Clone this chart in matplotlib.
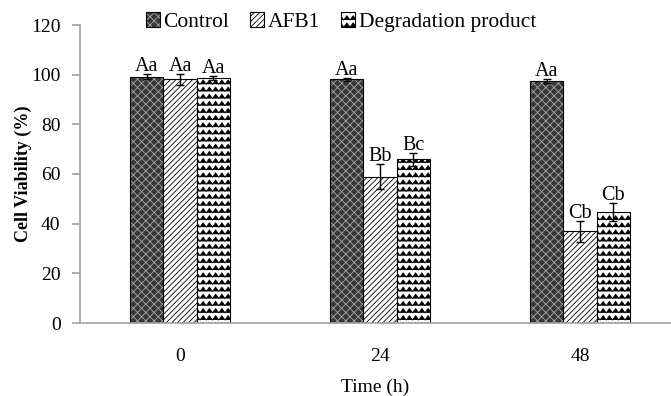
import numpy as np
import matplotlib
matplotlib.use("Agg")
import matplotlib.pyplot as plt
import matplotlib.hatch as mhatch
from matplotlib.path import Path

# data
times = ["0", "24", "48"]
series = ["Control", "AFB1", "Degradation product"]
control = [99.2, 98.1, 97.6]
afb1 = [98.1, 58.9, 37.0]
degradation = [98.8, 65.9, 44.7]
control_err = [1.0, 0.6, 0.8]
afb1_err = [2.3, 5.0, 4.2]
degradation_err = [0.8, 2.7, 3.7]
control_lab = ["Aa", "Aa", "Aa"]
afb1_lab = ["Aa", "Bb", "Cb"]
degradation_lab = ["Aa", "Bc", "Cb"]


class ZigZagHatch(mhatch.HatchPatternBase):
    # wavy lines, used in place of the '|' hatch
    def __init__(self, hatch, density):
        n = hatch.count("|")
        self.num_lines = int(n * density * 1.2)
        self.num_teeth = int(n * density * 1.35)
        self.num_vertices = self.num_lines * (2 * self.num_teeth + 1)

    def set_vertices_and_codes(self, vertices, codes):
        if self.num_lines == 0:
            return
        ys = (np.arange(self.num_lines) + 0.5) / self.num_lines
        xs = np.linspace(0, 1, 2 * self.num_teeth + 1)
        amp = 0.3 / self.num_lines
        offs = np.where(np.arange(len(xs)) % 2 == 0, -amp, amp)
        k = len(xs)
        for i, y in enumerate(ys):
            vertices[i * k:(i + 1) * k, 0] = xs
            vertices[i * k:(i + 1) * k, 1] = y + offs
            codes[i * k] = Path.MOVETO
            codes[i * k + 1:(i + 1) * k] = Path.LINETO


mhatch._hatch_types = [ZigZagHatch if t is mhatch.VerticalHatch else t
                       for t in mhatch._hatch_types]

plt.rcParams["font.family"] = ["Liberation Serif", "DejaVu Serif"]
plt.rcParams["hatch.linewidth"] = 0.6

fig = plt.figure(figsize=(6.71, 3.96), dpi=100)
ax = fig.add_axes([80 / 671, 1 - 323 / 396, 591 / 671, 298 / 396])

x = np.arange(len(times))
w = 1 / 6
styles = [
    ("#383838", "#a8a8a8", "xxxx"),
    ("white", "black", "//////"),
    ("white", "black", "||"),
]
values = [control, afb1, degradation]
errors = [control_err, afb1_err, degradation_err]
letters = [control_lab, afb1_lab, degradation_lab]

handles = []
for i, (vals, errs, labs, (face, hcol, hatch)) in enumerate(zip(values, errors, letters, styles)):
    pos = x + (i - 1) * w
    hb = ax.bar(pos, vals, w, color=face, edgecolor=hcol, hatch=hatch, linewidth=0)
    eb = ax.bar(pos, vals, w, fill=False, edgecolor="black", linewidth=0.8)
    handles.append((hb, eb))
    ax.errorbar(pos, vals, yerr=errs, fmt="none", ecolor="black",
                elinewidth=1, capsize=3, capthick=1)
    for p, v, e, t in zip(pos, vals, errs, labs):
        ax.text(p, v + e + 1.2, t, ha="center", va="baseline", fontsize=14.5)

ax.set_xlim(-0.5, -0.5 + 591 / 200)
ax.set_ylim(0, 120)
ax.set_yticks(range(0, 121, 20))
ax.set_xticks(x)
ax.set_xticklabels(times)

for s in ["top", "right"]:
    ax.spines[s].set_visible(False)
for s in ["left", "bottom"]:
    ax.spines[s].set_color("#a0a0a0")
    ax.spines[s].set_linewidth(1.2)

ax.tick_params(axis="y", length=6, width=1.2, color="#a0a0a0", labelsize=14, pad=8)
ax.tick_params(axis="x", length=0, labelsize=14, pad=18)

ax.set_ylabel("Cell Viability (%)", fontsize=13, fontweight="bold", labelpad=-1)
ax.set_xlabel("Time (h)", fontsize=14, labelpad=10)

ax.legend(handles, series, loc="center", bbox_to_anchor=(0.508, 0.944),
          bbox_transform=fig.transFigure, ncol=3, frameon=False, fontsize=15.5,
          handlelength=0.65, handleheight=0.65, handletextpad=0.15, columnspacing=1.0,
          borderpad=0, borderaxespad=0)

fig.savefig("out.png", dpi=100)
